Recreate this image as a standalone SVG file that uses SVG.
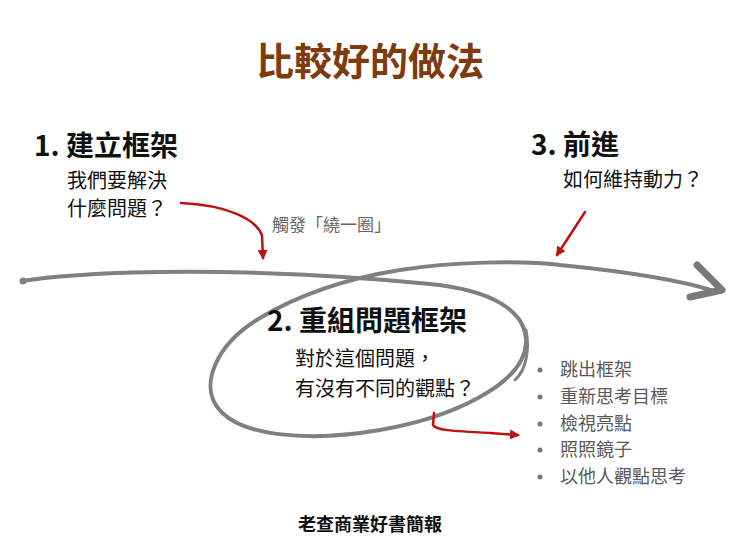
<svg xmlns="http://www.w3.org/2000/svg" width="740" height="557" viewBox="0 0 740 557">
<style>
text{font-family:"Noto Sans CJK TC","Noto Sans CJK SC","Noto Sans",sans-serif}
.title{font-size:38px;font-weight:bold;fill:#7E3B0E}
.h{font-size:28px;font-weight:bold;fill:#111}
.s{font-size:20px;fill:#111}
.g{font-size:17px;fill:#666}
.b{font-size:18px;fill:#595959}
.foot{font-size:18px;font-weight:bold;fill:#111}
.loop{fill:none;stroke:#808080;stroke-width:4;stroke-linecap:round;stroke-linejoin:round}
.red{fill:none;stroke:#BE1111;stroke-width:2.5;stroke-linecap:round}
</style>
<defs>
<marker id="rh" viewBox="0 0 10 10" refX="8" refY="5" markerWidth="4" markerHeight="4" orient="auto" markerUnits="strokeWidth">
<path d="M0,0 L10,5 L0,10 Z" fill="#BE1111"/>
</marker>
</defs>
<rect width="740" height="557" fill="#fff"/>
<text class="title" x="370" y="75" text-anchor="middle">比較好的做法</text>
<g id="connectors">
<path class="loop" d="M22,281 C80,272 180,270 260,273 C320,275 380,279 430,284 C490,290 527,310 526,343 C524,385 450,418 380,430 C310,442 240,437 218,408 C200,385 215,345 260,318 C300,294 350,278 400,270 C450,262 520,260 560,265 C620,271 680,280 714,291"/>
<circle cx="23" cy="281" r="3.5" fill="#808080"/>
<path d="M526,330 C530,350 526,370 515,380" fill="none" stroke="#808080" stroke-width="3" stroke-linecap="round"/>
<polyline points="697,265 722,290 690,297" fill="none" stroke="#7a7a7a" stroke-width="7" stroke-linecap="round" stroke-linejoin="round"/>
<path class="red" d="M181,203 C225,205 255,218 262,235 L263,258" marker-end="url(#rh)"/>
<path class="red" d="M585,212 L557,255" marker-end="url(#rh)"/>
<path class="red" d="M434,413 L433,425 C436,430 450,431 490,433 L518,435" marker-end="url(#rh)"/>
</g>
<g id="node1">
<text class="h" x="34" y="156">1. 建立框架</text>
<text class="s" x="67" y="188">我們要解決</text>
<text class="s" x="67" y="216">什麼問題？</text>
</g>
<g id="label-loop">
<text class="g" x="272" y="231">觸發「繞一圈」</text>
</g>
<g id="node3">
<text class="h" x="531" y="155">3. 前進</text>
<text class="s" x="563" y="187">如何維持動力？</text>
</g>
<g id="node2">
<text class="h" x="267" y="331">2. 重組問題框架</text>
<text class="s" x="295" y="366">對於這個問題，</text>
<text class="s" x="295" y="396">有沒有不同的觀點？</text>
</g>
<g id="bullets">
<g fill="#777">
<circle cx="540" cy="370" r="2.5"/>
<circle cx="540" cy="397" r="2.5"/>
<circle cx="540" cy="424" r="2.5"/>
<circle cx="540" cy="450" r="2.5"/>
<circle cx="540" cy="477" r="2.5"/>
</g>
<text class="b" x="560" y="376">跳出框架</text>
<text class="b" x="560" y="403">重新思考目標</text>
<text class="b" x="560" y="430">檢視亮點</text>
<text class="b" x="560" y="456">照照鏡子</text>
<text class="b" x="560" y="483">以他人觀點思考</text>
</g>
<text class="foot" x="370" y="531" text-anchor="middle">老查商業好書簡報</text>
</svg>
